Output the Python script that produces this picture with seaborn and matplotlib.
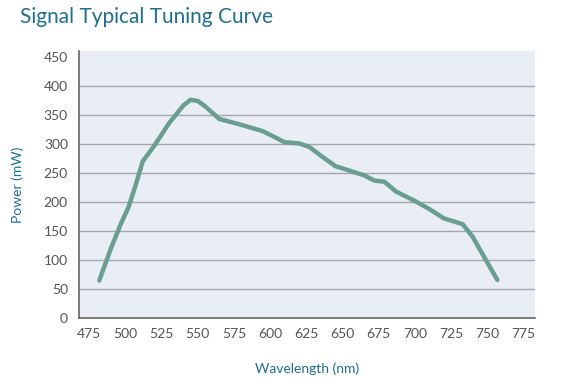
import matplotlib
matplotlib.use("Agg")
import matplotlib.pyplot as plt
import seaborn as sns
import pandas as pd

wavelength = [482, 490, 497, 502, 507, 512, 520, 530, 540, 545, 550, 555, 565, 580, 595,
              603, 610, 620, 627, 635, 645, 655, 665, 672, 679, 687, 700, 710, 720,
              733, 740, 748, 757]
power = [65, 120, 163, 190, 228, 270, 297, 335, 366, 376, 374, 365, 343, 333, 322,
         312, 303, 301, 295, 280, 262, 254, 246, 237, 235, 218, 202, 188, 172,
         162, 140, 105, 66]
x_ticks = [475, 500, 525, 550, 575, 600, 625, 650, 675, 700, 725, 750, 775]
y_ticks = [0, 50, 100, 150, 200, 250, 300, 350, 400, 450]

df = pd.DataFrame({"Wavelength (nm)": wavelength, "Power (mW)": power})

sns.set_style("white")
plt.rcParams['font.family'] = ['Lato', 'DejaVu Sans']

fig = plt.figure(figsize=(5.62, 3.84), dpi=100)
ax = fig.add_axes([79/562, 1-318.3/384, (535-79)/562, (318.3-51)/384])
ax.set_facecolor("#e9edf4")

sns.lineplot(data=df, x="Wavelength (nm)", y="Power (mW)", ax=ax,
             color="#6a9e8f", linewidth=3.2, solid_capstyle="round",
             solid_joinstyle="round")

ax.set_xlim(468, 783)
ax.set_ylim(0, 460)
ax.set_xticks(x_ticks)
ax.set_yticks(y_ticks)
ax.yaxis.grid(True, color="#a3a6ab", linewidth=1.0)
ax.xaxis.grid(False)
ax.set_axisbelow(True)
gl = ax.get_ygridlines()
gl[-1].set_visible(False)
for s in ["top", "right"]:
    ax.spines[s].set_visible(False)
for s in ["left", "bottom"]:
    ax.spines[s].set_color("#666666")
    ax.spines[s].set_linewidth(1.2)
ax.tick_params(axis="both", length=0, labelsize=10, colors="#555555")
ax.tick_params(axis="x", pad=7)
ax.tick_params(axis="y", pad=8)

ax.set_xlabel("Wavelength (nm)", color="#1f6f8f", fontsize=10, labelpad=16)
ax.set_ylabel("Power (mW)", color="#1f6f8f", fontsize=10, labelpad=14)

fig.text(20/562, 1-17/384, "Signal Typical Tuning Curve", color="#1f6f8f",
         fontsize=15, va="center", ha="left")

fig.savefig("out.png", dpi=100)
